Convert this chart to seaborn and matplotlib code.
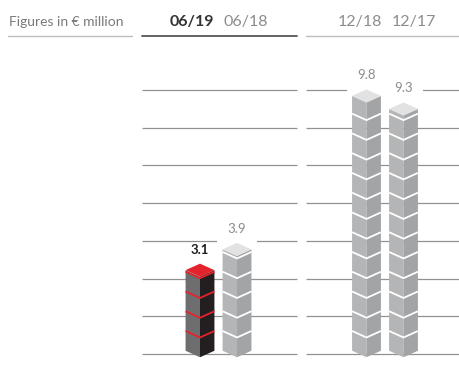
import numpy as np
import matplotlib.pyplot as plt
import seaborn as sns
from matplotlib.lines import Line2D
from matplotlib.patches import Polygon, Rectangle

# data
periods = ["06/19", "06/18", "12/18", "12/17"]
values = [3.1, 3.9, 9.8, 9.3]
current = "06/19"
unit_label = "Figures in € million"

sns.set_theme(style="white")
plt.rcParams["font.family"] = ["Lato", "DejaVu Sans"]

# layout of the cube stacks (x in slot units, y in € million)
xpos = [0, 1, 4.5, 5.5]
cube = 0.76      # height of one cube
half_w = 0.39    # half width of a stack
depth = 0.25     # vertical drop of the front edge
grid_step = 1.45
n_grid = 8

gray = {"left": "#b4b5b7", "right": "#a3a4a6", "top": "#e2e2e3", "sep": "white"}
dark = {"left": "#6e6e70", "right": "#231f20", "top": "#e3232b", "sep": "#e3232b"}

fig = plt.figure(figsize=(4.59, 3.67), dpi=100)
ax = fig.add_axes([0, 0, 1, 1])
ax.set_xlim(-200 / 37, 259 / 37)
ax.set_ylim(-0.5, 354 / 26)
ax.axis("off")

grid_y = np.arange(n_grid) * grid_step
ax.hlines(grid_y, -1.57, 2.62, color="#919191", lw=0.9, zorder=1)
ax.hlines(grid_y, 2.86, 7.0, color="#919191", lw=0.9, zorder=1)

for p, v, cx in zip(periods, values, xpos):
    st = dark if p == current else gray
    h = depth / 2
    # clear the grid between label and stack top
    ax.add_patch(Rectangle((cx - 0.54, v), 1.08, 1.05, color="white", zorder=2, lw=0))
    left = [(cx - half_w, h), (cx, -h), (cx, v - h), (cx - half_w, v + h)]
    right = [(cx, -h), (cx + half_w, h), (cx + half_w, v + h), (cx, v - h)]
    top = [(cx - half_w, v + h), (cx, v - h), (cx + half_w, v + h), (cx, v + 3 * h)]
    ax.add_patch(Polygon(left, closed=True, fc=st["left"], lw=0, zorder=3))
    ax.add_patch(Polygon(right, closed=True, fc=st["right"], lw=0, zorder=3))
    ax.add_patch(Polygon(top, closed=True, fc=st["top"], lw=0, zorder=3))
    k = 1
    while k * cube < v - 0.02:
        y = k * cube
        ax.plot([cx - half_w, cx, cx + half_w], [y + h, y - h, y + h],
                color=st["sep"], lw=1.3, zorder=4, solid_capstyle="butt")
        k += 1
    is_cur = p == current
    ax.annotate(f"{v:.1f}", (cx, v + 3 * h), xytext=(0, 7.2), textcoords="offset points",
                ha="center", va="baseline", fontsize=9.5,
                fontweight="bold" if is_cur else "normal",
                color="#1e1e1e" if is_cur else "#8c8c8c", zorder=5)

# header
W, H = 459, 367
hy = 1 - 22 / H
fig.text(9 / W, hy, unit_label, ha="left", va="center", fontsize=10, color="#7a7a7a")
head_x = [191.5, 245.5, 359.5, 414]
for p, hx in zip(periods, head_x):
    is_cur = p == current
    fig.text(hx / W, hy, p, ha="center", va="center", fontsize=11.5,
             fontweight="bold" if is_cur else "normal",
             color="#333333" if is_cur else "#8c8c8c")
uy = 1 - 36 / H
fig.add_artist(Line2D([8 / W, 132 / W], [uy, uy], color="#bdbdbd", lw=1.0))
fig.add_artist(Line2D([142 / W, 297 / W], [uy, uy], color="#555555", lw=1.3))
fig.add_artist(Line2D([306 / W, 1.0], [uy, uy], color="#bdbdbd", lw=1.0))

fig.savefig("out.png", dpi=100, facecolor="white")
